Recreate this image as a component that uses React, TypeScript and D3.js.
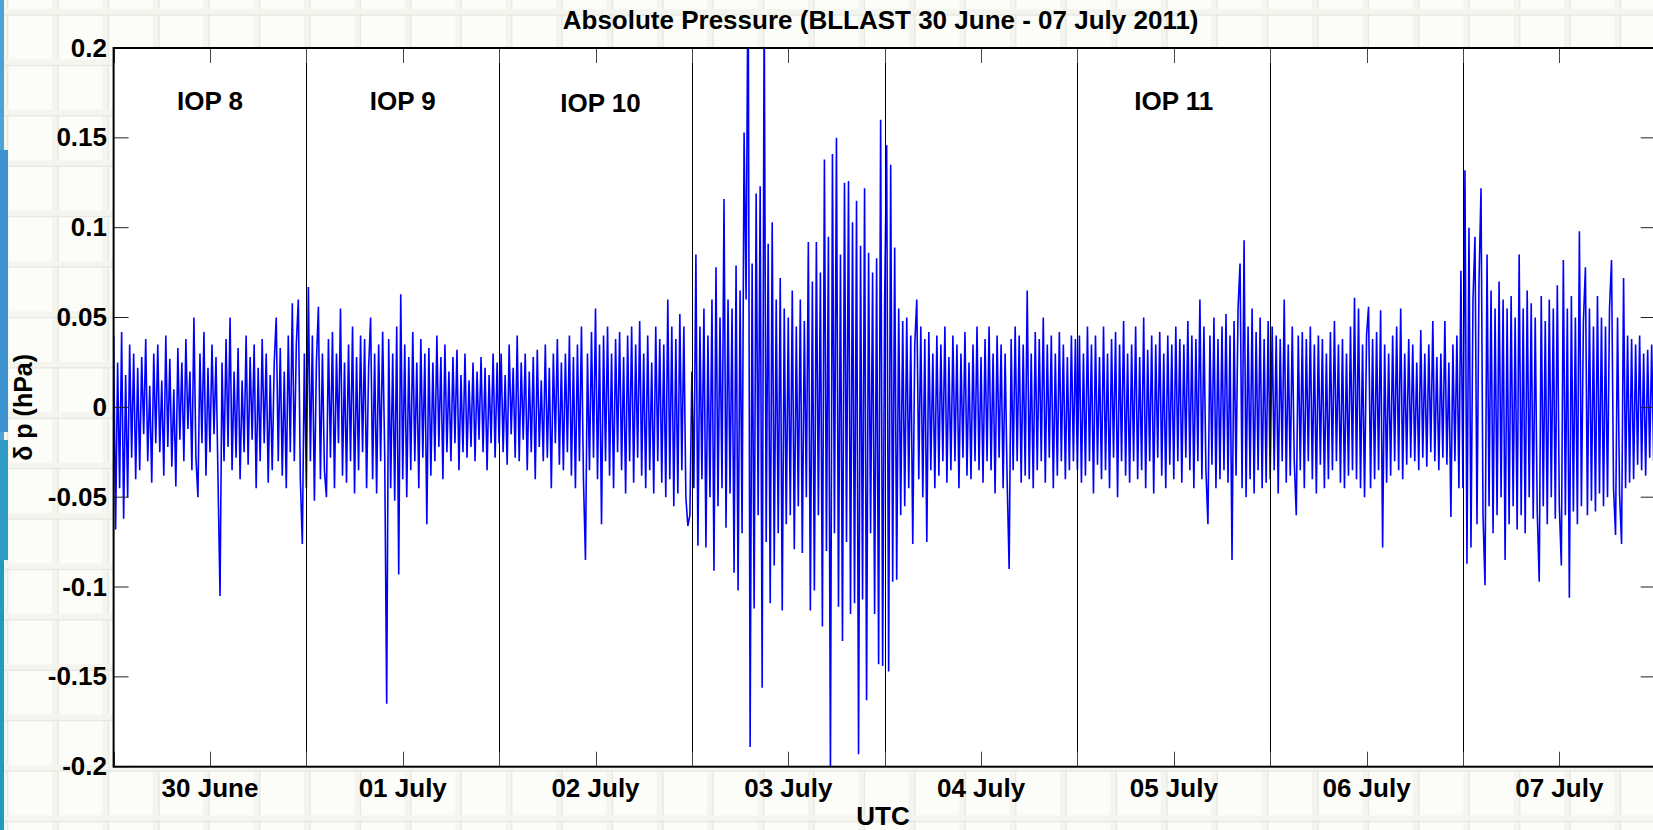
import React from 'react';
import * as d3 from 'd3';

// δp in 0.001 hPa, one value every 15 min, one array per UTC day
const jun30 = [
  40, -68, 25, -45, 42, -62, 18, -50, 35, -28, 30, -40,
  22, -35, 28, -15, 38, -30, 12, -42, 30, -20, 35, -25,
  15, -38, 40, -22, 27, -33, 10, -44, 33, -18, 25, -30,
  38, -12, 20, -35, 50, -28, -50, 30, -20, 42, -38, 22,
  -25, 35, -15, 28, -40, -105, 25, -30, 38, -22, 50, -35,
  20, -28, 33, -40, 15, -25, 40, -32, 28, -18, 35, -45,
  22, -30, 38, -20, 30, -42, 18, -35, 25, 50, -30, 33,
  -38, 20, -45, 40, -25, 58, -30, 35, 60, -40, -76, 30,
];
const jul01 = [
  -45, 67, -30, 40, -52, 25, 56, -40, 30, -35, -50, 38,
  -28, 42, -45, 30, -20, 55, -38, 25, -42, 35, -30, 45,
  -48, 28, -35, 40, -25, 38, -45, 22, 50, -40, 30, -48,
  35, -30, 42, -25, -165, 38, -45, 30, -52, 45, -93, 63,
  -40, 35, -50, 28, -35, 42, -30, 25, -45, 38, -28, 30,
  -65, 33, -38, 25, -30, 40, -22, 28, -40, 35, -25, 20,
  -30, 28, -20, 32, -35, 18, -25, 30, -28, 15, -22, 25,
  -30, 20, -18, 28, -25, 22, -35, 18, -20, 30, -28, 25,
];
const jul02 = [
  -20, 30, -25, 18, -32, 35, -15, 22, -28, 40, -30, 25,
  -18, 30, -35, 20, -25, 28, -40, 32, -22, 15, -30, 35,
  -28, 22, -45, 30, -20, 38, -32, 25, -35, 30, -25, 40,
  -38, 28, -45, 35, -30, 45, -40, -85, 30, -35, 42, -28,
  55, -40, 35, -65, 40, -30, 45, -38, 30, -45, 38, -25,
  42, -35, 28, -48, 40, -30, 45, -42, 35, -28, 48, -38,
  30, -45, 40, -35, 25, -48, 45, -30, 38, -42, 35, -50,
  60, -40, 45, -55, 38, -48, 52, -35, 45, -50, -66, -60,
];
const jul03 = [
  20, -45, 85, -77, 45, -40, 55, -78, 40, -50, 60, -91,
  78, -55, 50, -45, 116, -67, 60, -48, 55, -92, 79, -102,
  65, -70, 153, 60, 260, -189, 80, -112, 119, -60, 123, -156,
  230, -75, 91, -109, 103, -88, 60, -70, 72, -113, 55, -65,
  50, -60, 65, -79, 45, -55, 60, -81, 48, -50, 92, -113,
  70, -102, 92, -60, 75, -122, 138, -80, 95, -205, 141, -70,
  150, -111, 85, -130, 125, -75, 126, -115, 103, -109, 115, -193,
  90, -107, 122, -163, 86, -70, 75, -115, 83, -143, 160, -144,
];
const jul04 = [
  60, 146, -147, 135, -97, 89, -96, 55, -60, 48, -55, 50,
  -45, 40, -76, 35, 60, -40, 45, -50, 38, -75, 42, -35,
  30, -45, 40, -38, 35, -30, 45, -42, 28, -35, 40, -30,
  35, -45, 30, -28, 42, -38, 25, -40, 35, -30, 45, -35,
  28, -42, 38, -30, 45, -35, 30, -48, 40, -28, 35, -45,
  30, -40, -90, 38, -35, 45, -30, 40, -42, 35, -38, 65,
  -40, 30, -45, 42, -35, 38, -30, 50, -42, 35, -28, 40,
  -45, 30, -38, 42, -30, 35, -40, 28, -35, 40, -30, 38,
];
const jul05 = [
  -35, 40, -42, 30, -38, 45, -30, 35, -48, 40, -32, 28,
  -40, 45, -35, 30, -45, 38, -28, 42, -50, 35, -30, 48,
  -38, 30, -42, 35, -30, 45, -40, 28, -35, 50, -45, 32,
  -30, 40, -48, 35, -28, 42, -38, 30, -45, 40, -32, 35,
  -40, 45, -30, 38, -42, 35, -28, 48, -35, 40, -45, 38,
  -30, 60, -40, 45, -35, -65, 40, -32, 50, -45, 38, -40,
  45, -35, 52, -42, 40, -85, 48, -38, 55, 80, -45, 93,
  -50, 45, -40, 55, -48, 42, -35, 50, -45, 38, -42, 48,
];
const jul06 = [
  -40, 45, -35, 40, -48, 38, -30, 60, -42, 35, -38, 45,
  -30, -60, 40, -35, 42, -45, 38, -30, 45, -40, 35, -48,
  40, -32, 38, -45, 30, -40, 42, -35, 48, -30, 35, -42,
  38, -45, 30, -38, 45, -35, 61, -40, 55, -45, 35, -50,
  40, 56, -45, 38, -40, 42, -35, 54, -78, 35, -42, 30,
  -38, 40, -30, 45, -35, 55, -40, 30, -32, 38, -28, 35,
  -30, 25, -35, 43, -28, 30, -33, 35, -25, 48, -30, 28,
  -35, 30, -28, 48, -32, 25, -61, 35, -30, 40, -45, 76,
];
const jul07 = [
  -45, 132, -87, 100, -78, 60, 95, -65, 70, 122, -60, -99,
  85, -55, 65, -70, 55, -60, 70, -50, 60, -85, 55, -65,
  62, -55, 50, -68, 85, -60, 55, -70, 65, -50, 58, -62,
  50, -58, -97, 62, -55, 48, -65, 60, -50, 55, -62, 68,
  -55, -88, 82, -60, 55, -106, 62, -58, 50, -65, 98, -55,
  48, 78, -60, 55, -52, 45, -58, 62, -48, 50, -55, 45,
  -50, 55, 82, -45, -71, 50, -48, -76, 72, -45, 40, -42,
  38, -40, 35, -32, 40, -35, 30, -38, 32, -28, 35, -30,
];

const days = [jun30, jul01, jul02, jul03, jul04, jul05, jul06, jul07];
const startDate = new Date(Date.UTC(2011, 5, 30));
const endDate = new Date(Date.UTC(2011, 6, 8));
const yTicks = [-0.2, -0.15, -0.1, -0.05, 0, 0.05, 0.1, 0.15, 0.2];
const iops = [
  { day: 0, label: 'IOP 8' },
  { day: 1, label: 'IOP 9' },
  { day: 2, label: 'IOP 10' },
  { day: 5, label: 'IOP 11' },
];

const W = 1653;
const H = 830;
const font = '"Liberation Sans", Arial, Helvetica, sans-serif';

const App = () => {
  const left = 113.6, right = 1655.7, top = 48, bottom = 766.7;

  const x = d3.scaleUtc().domain([startDate, endDate]).range([left, right]);
  const y = d3.scaleLinear().domain([-0.2, 0.2]).range([bottom, top]);

  const series = days.flatMap((vals, d) =>
    vals.map((v, i) => ({
      t: d3.utcMinute.offset(startDate, d * 1440 + i * 15),
      v: v / 1000,
    }))
  );

  const line = d3.line<{ t: Date; v: number }>()
    .x(d => x(d.t))
    .y(d => y(d.v));

  const dayLines = d3.utcDay.range(d3.utcDay.offset(startDate, 1), endDate);
  const noons = d3.utcDay.range(startDate, endDate).map(d => d3.utcHour.offset(d, 12));
  const xTicks = d3.utcHour.every(12)!.range(startDate, endDate);
  const fmt = d3.utcFormat('%d %B');

  // graph-paper backdrop
  const gx = d3.range(7.6, W, 50.4);
  const gy = d3.range(15, H, 50.4);

  return (
    <svg width={W} height={H} style={{ position: 'absolute', left: 0, top: 0, display: 'block' }}>
      <rect width={W} height={H} fill="#fcfcf8" />
      {gx.map(v => (
        <g key={'gx' + v}>
          <rect x={v - 6} y={0} width={5} height={H} fill="#f5f5f0" />
          <line x1={v} x2={v} y1={0} y2={H} stroke="#e8e8e2" strokeWidth={1.5} />
        </g>
      ))}
      {gy.map(v => (
        <g key={'gy' + v}>
          <rect x={0} y={v - 6} width={W} height={5} fill="#f5f5f0" />
          <line x1={0} x2={W} y1={v} y2={v} stroke="#e8e8e2" strokeWidth={1.5} />
        </g>
      ))}
      <rect x={0} y={0} width={4} height={H} fill="#4aa2d6" />
      <rect x={0} y={150} width={8} height={282} fill="#3c93cf" />
      <rect x={0} y={440} width={8} height={120} fill="#2f9cc6" />
      <rect x={0} y={560} width={4} height={270} fill="#1f9bbf" />

      <defs>
        <clipPath id="plotclip">
          <rect x={left} y={top} width={right - left} height={bottom - top} />
        </clipPath>
      </defs>

      <rect x={left} y={top} width={right - left} height={bottom - top} fill="#fff" />

      <path d={line(series) ?? ''} fill="none" stroke="#0000ff" strokeWidth={1.6}
        strokeLinejoin="bevel" clipPath="url(#plotclip)" />

      {dayLines.map(d => (
        <line key={'dl' + d.getTime()} x1={Math.round(x(d)) + 0.5} x2={Math.round(x(d)) + 0.5}
          y1={top} y2={bottom} stroke="#000" strokeWidth={1} />
      ))}

      {xTicks.map(d => (
        <g key={'xt' + d.getTime()}>
          <line x1={Math.round(x(d)) + 0.5} x2={Math.round(x(d)) + 0.5} y1={top} y2={top + 15} stroke="#444" />
          <line x1={Math.round(x(d)) + 0.5} x2={Math.round(x(d)) + 0.5} y1={bottom - 15} y2={bottom} stroke="#444" />
        </g>
      ))}
      {yTicks.map(v => (
        <g key={'yt' + v}>
          <line x1={left} x2={left + 15} y1={y(v)} y2={y(v)} stroke="#222" />
          <line x1={right - 15} x2={right} y1={y(v)} y2={y(v)} stroke="#222" />
          <text x={107} y={y(v) + 8.5} textAnchor="end" fontFamily={font} fontWeight="bold"
            fontSize={26} fill="#000">{String(v)}</text>
        </g>
      ))}

      <rect x={left} y={top} width={right - left} height={bottom - top} fill="none"
        stroke="#000" strokeWidth={2} />

      {noons.map(d => (
        <text key={'xl' + d.getTime()} x={x(d)} y={797} textAnchor="middle" fontFamily={font}
          fontWeight="bold" fontSize={26} fill="#000">{fmt(d)}</text>
      ))}

      {iops.map(o => (
        <text key={o.label} x={x(d3.utcHour.offset(startDate, o.day * 24 + 12)) + (o.day === 2 ? 5 : 0)}
          y={o.day === 2 ? 112 : 110}
          textAnchor="middle" fontFamily={font} fontWeight="bold" fontSize={26} fill="#000">
          {o.label}
        </text>
      ))}

      <text x={(left + right) / 2 - 4} y={28.5} textAnchor="middle" fontFamily={font} fontWeight="bold"
        fontSize={26} fill="#000">Absolute Pressure (BLLAST 30 June - 07 July 2011)</text>
      <text x={883} y={825} textAnchor="middle" fontFamily={font} fontWeight="bold" fontSize={26}
        fill="#000">UTC</text>
      <text transform={`translate(32,${(top + bottom) / 2}) rotate(-90)`} textAnchor="middle"
        fontFamily={font} fontWeight="bold" fontSize={25} fill="#000">δ p (hPa)</text>
    </svg>
  );
};

export default App;
